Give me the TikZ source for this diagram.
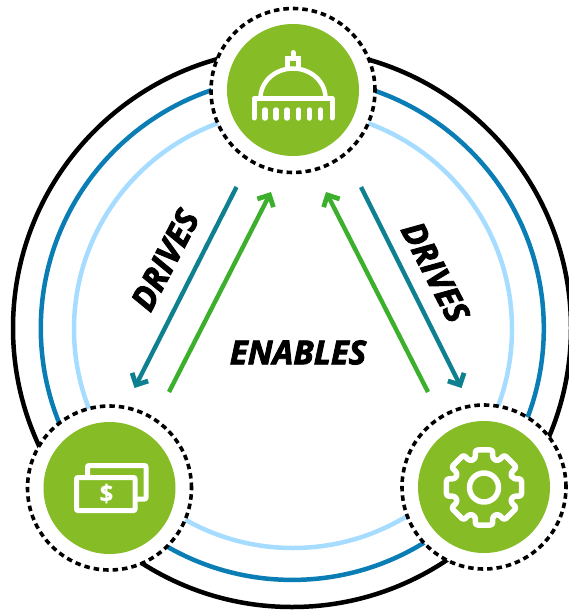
\documentclass[tikz,border=0pt]{standalone}
\usepackage{fontspec}
\setmainfont{Open Sans}
\newfontfamily\labfont{Open Sans}[BoldItalicFeatures={FakeBold=2.6},BoldFeatures={FakeBold=0.4}]
\usetikzlibrary{arrows.meta}
\definecolor{ringblue}{HTML}{0A7DB5}
\definecolor{ringlight}{HTML}{A6DCFF}
\definecolor{iconG}{HTML}{86BC25}
\definecolor{tealA}{HTML}{0F8090}
\definecolor{greenA}{HTML}{3CB02C}
\tikzset{
  ringline/.style={line width=4.5pt,fill=none},
  hub/.style={circle,minimum size=164pt,inner sep=0pt,draw=black,fill=white,line width=3.6pt,dash pattern=on 5.5pt off 4pt},
  disc/.style={circle,minimum size=132pt,inner sep=0pt,fill=iconG},
  glyph/.style={draw=white,line width=5pt,line cap=round,line join=round},
  drivearrow/.style={draw=tealA,line width=4.4pt,-{Straight Barb[length=9pt,width=18pt,line width=4.8pt]}},
  enablearrow/.style={draw=greenA,line width=4.4pt,-{Straight Barb[length=9pt,width=18pt,line width=4.8pt]}},
  lab/.style={font=\labfont\fontsize{33}{33}\selectfont\bfseries\itshape,text=black,inner sep=0pt}
}
\begin{document}
\begin{tikzpicture}[x=1pt,y=-1pt]
\useasboundingbox (0,0) rectangle (569,610);
\clip (0,0) rectangle (569,610);
\node[circle,minimum size=558pt,inner sep=0pt,draw=black,ringline] (outer) at (292,328) {};
\node[circle,minimum size=503pt,inner sep=0pt,draw=ringblue,ringline] (mid) at (292.3,328.4) {};
\node[circle,minimum size=438pt,inner sep=0pt,draw=ringlight,ringline] (inner) at (293,329) {};

\node[hub] (hubT) at (293,90.5) {};
\node[hub] (hubL) at (109.5,488) {};
\node[hub] (hubR) at (484,487) {};
\node[disc] (discT) at (293,90) {};
\node[disc] (discL) at (109.5,488) {};
\node[disc] (discR) at (484,487) {};

% capitol icon
\draw[glyph] (254,118) -- (254,98.5) -- (332,98.5) -- (332,118);
\foreach \x in {265,276,287,298.3,309.3,320.3} \draw[glyph,line width=5.5pt] (\x,110) -- (\x,118);
\draw[glyph,line width=4.5pt] (260.5,98) arc[start angle=180,end angle=360,x radius=32.5,y radius=29.5];
\draw[glyph,line width=5pt,line cap=butt,line join=miter] (287.5,69) -- (287.5,58.5) -- (298.5,58.5) -- (298.5,69);
\draw[glyph] (293,52.5) -- (293,58);

% money icon
\draw[glyph,rounded corners=1pt] (76.5,477.5) rectangle (135,510.5);
\draw[glyph,rounded corners=1pt] (87.5,475) -- (87.5,465.5) -- (146,465.5) -- (146,499) -- (137,499);
\node[inner sep=0pt,text=white,font=\labfont\fontsize{24}{24}\selectfont\bfseries] (dollar) at (106.5,493.5) {\$};

% gear icon
\begin{scope}[shift={(484,487.5)}]
\draw[glyph,line width=5.5pt] (0,0) circle[radius=14.5];
\draw[glyph,line width=5.5pt,rounded corners=2.5pt]
  (-17:30)
  \foreach \a in {0,45,...,315}{
    -- ({\a-17}:30) -- ({\a-13}:38.5) -- ({\a+13}:38.5) -- ({\a+17}:30)
  } -- cycle;
\end{scope}

% connectors
\coordinate (dlS) at (236.5,187);
\coordinate (dlE) at (134.5,388);
\coordinate (elS) at (169,392);
\coordinate (elE) at (271,192);
\coordinate (erS) at (428,392);
\coordinate (erE) at (326,192);
\coordinate (drS) at (361,187);
\coordinate (drE) at (461.5,388);
\draw[drivearrow] (dlS) -- (dlE);
\draw[enablearrow] (elS) -- (elE);
\draw[enablearrow] (erS) -- (erE);
\draw[drivearrow] (drS) -- (drE);

\node[lab,rotate=62.5] (drivesL) at (165,260) {DRIVES};
\node[lab,rotate=-62.5] (drivesR) at (435.5,272) {DRIVES};
\node[lab] (enables) at (298,352.5) {ENABLES};
\end{tikzpicture}
\end{document}
